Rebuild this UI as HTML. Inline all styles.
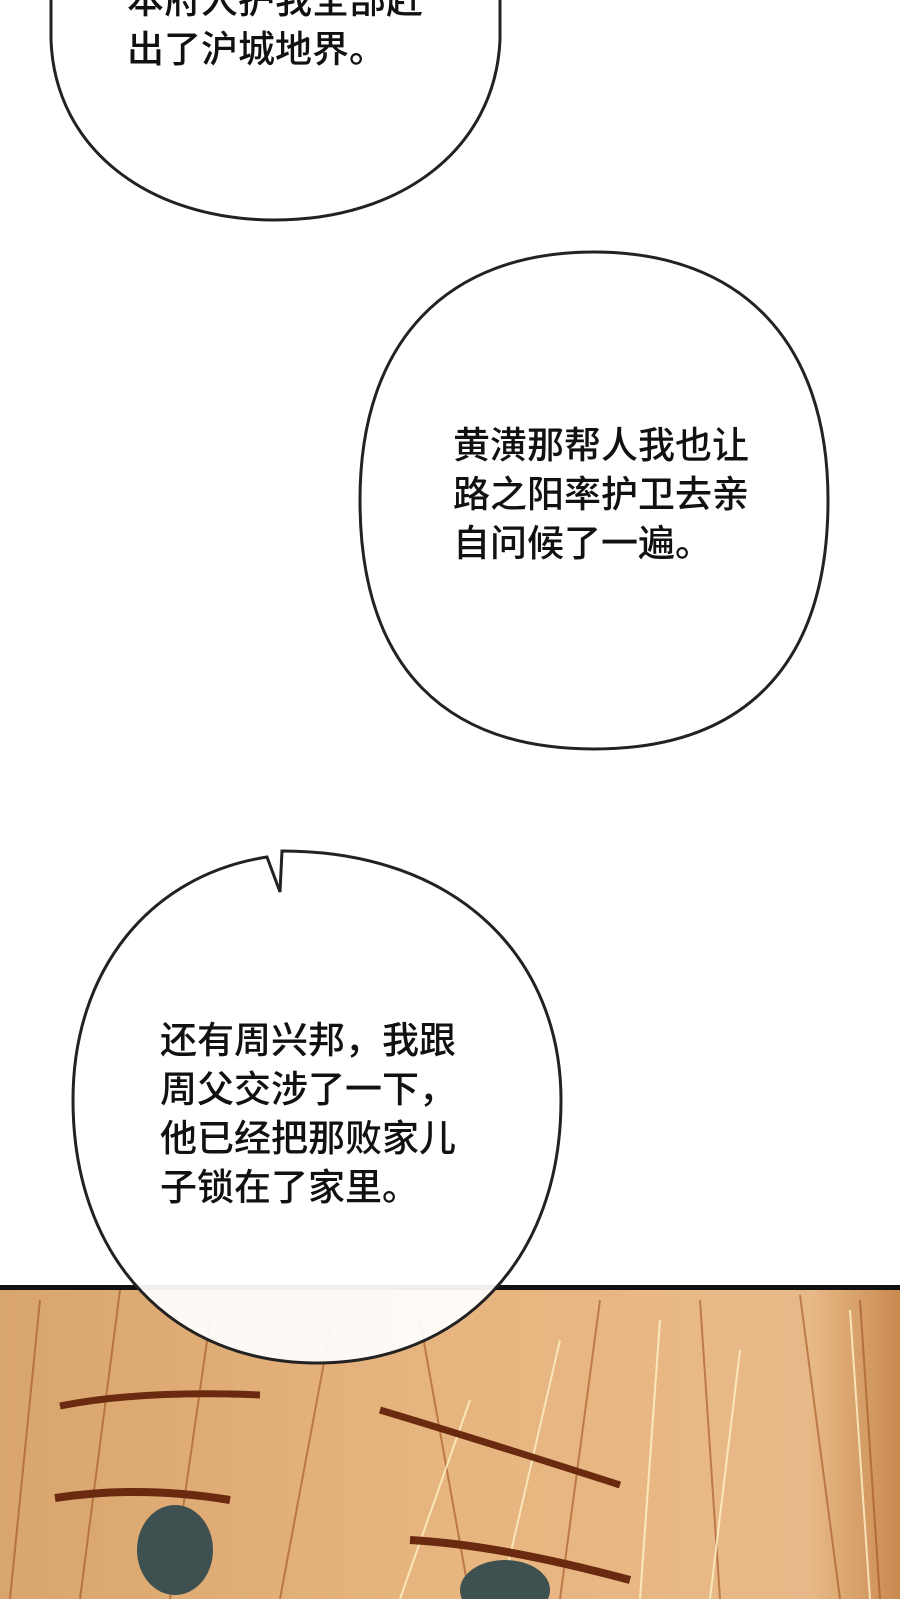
<!DOCTYPE html>
<html><head><meta charset="utf-8"><style>
html,body{margin:0;padding:0;background:#fff}
#c{position:relative;width:900px;height:1599px;overflow:hidden;background:#fff}
.t{position:absolute;font-family:"Liberation Sans","Noto Sans CJK SC",sans-serif;font-size:37px;font-weight:500;line-height:49px;color:#111;white-space:nowrap}
</style></head><body><div id="c">
<svg width="900" height="1599" style="position:absolute;left:0;top:0">
<defs>
<linearGradient id="g" x1="0" y1="0" x2="1" y2="0">
<stop offset="0" stop-color="#d9a56e"/><stop offset="0.5" stop-color="#e7b57f"/><stop offset="0.9" stop-color="#e8b988"/><stop offset="1" stop-color="#c98a4f"/>
</linearGradient>
</defs>
<rect x="0" y="1287" width="900" height="312" fill="url(#g)"/>
<g stroke="#a0521f" stroke-width="2" fill="none" opacity="0.6">
<path d="M40 1300 L10 1599"/><path d="M120 1290 L80 1599"/><path d="M210 1320 L170 1599"/><path d="M330 1330 L280 1599"/><path d="M420 1320 L470 1599"/><path d="M600 1300 L560 1599"/><path d="M700 1300 L720 1599"/><path d="M800 1295 L840 1599"/><path d="M860 1300 L880 1599"/>
</g>
<g stroke="#fff3c8" stroke-width="2" fill="none" opacity="0.8">
<path d="M470 1400 L400 1599"/><path d="M560 1340 L500 1599"/><path d="M660 1320 L640 1599"/><path d="M740 1350 L710 1599"/><path d="M850 1310 L870 1599"/>
</g>
<path d="M60 1406 Q140 1390 260 1395" stroke="#6a2a10" stroke-width="7" fill="none"/>
<path d="M380 1410 Q480 1440 620 1485" stroke="#6a2a10" stroke-width="7" fill="none"/>
<path d="M55 1498 Q140 1485 230 1500" stroke="#6a2a10" stroke-width="8" fill="none"/>
<path d="M410 1540 Q500 1545 630 1580" stroke="#6a2a10" stroke-width="8" fill="none"/>
<ellipse cx="175" cy="1550" rx="38" ry="45" fill="#3f5050"/>
<ellipse cx="505" cy="1590" rx="45" ry="30" fill="#3f5050"/>
<rect x="0" y="1285" width="900" height="5" fill="#111"/>
<path d="M51 -150 L51 40 C55 150 150 220 275 220 C400 220 495 150 500 40 L500 -150 Z" fill="#fff" stroke="#222" stroke-width="3"/>
<path d="M594 252 C740 252 828 340 828 500 C828 670 740 749 594 749 C448 749 360 670 360 500 C360 340 448 252 594 252 Z" fill="#fff" stroke="#222" stroke-width="3"/>
<path d="M282 851 C460 851 561 960 561 1100 C561 1260 460 1363 317 1363 C174 1363 73 1260 73 1100 C73 970 150 875 267 857 L280 892 Z" fill="#fff" fill-opacity="0.93" stroke="#222" stroke-width="3"/>
</svg>
<div class="t" style="left:127px;top:-24px">本府人护我全部赶<br>出了沪城地界。</div>
<div class="t" style="left:453px;top:421px">黄潢那帮人我也让<br>路之阳率护卫去亲<br>自问候了一遍。</div>
<div class="t" style="left:160px;top:1016px">还有周兴邦，我跟<br>周父交涉了一下，<br>他已经把那败家儿<br>子锁在了家里。</div>
</div></body></html>
